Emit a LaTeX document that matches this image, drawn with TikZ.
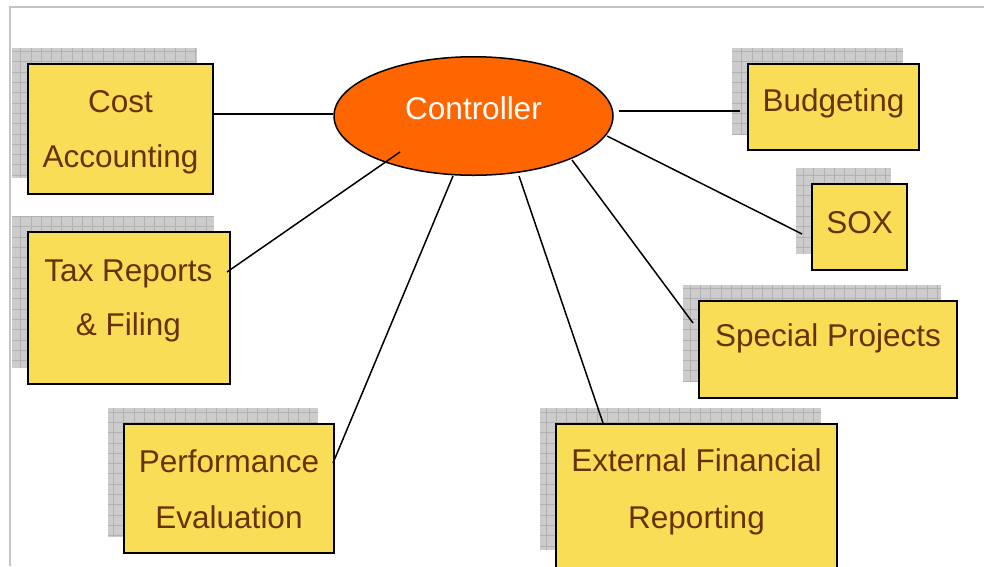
\documentclass[tikz,border=0pt]{standalone}
\usepackage{fontspec}
\setmainfont{Liberation Sans}
\usetikzlibrary{shapes.geometric,backgrounds}

\definecolor{boxyellow}{RGB}{249,221,86}
\definecolor{textbrown}{RGB}{102,51,0}
\definecolor{ctrlorange}{RGB}{255,102,0}
\definecolor{shadowgray}{RGB}{204,204,204}
\definecolor{shadowgrid}{RGB}{178,178,178}
\definecolor{framegray}{RGB}{196,196,196}

\tikzset{
  box/.style={draw=black, line width=2pt, fill=boxyellow, inner sep=0pt, outer sep=0pt},
  hub/.style={ellipse, draw=black, line width=1.5pt, fill=ctrlorange, inner sep=0pt, outer sep=0pt},
  lbl/.style={anchor=base, inner sep=0pt, text=textbrown, font=\fontsize{31.5}{31.5}\selectfont},
  hublbl/.style={lbl, text=white},
  link/.style={draw=black, line width=1.5pt},
  framerule/.style={draw=framegray, line width=2pt},
}

% grey hatched drop shadow, shifted up-left behind a box
\newcommand\gridshadow[2][0]{%
  \begin{scope}
    \clip ([shift={(-16,-16)}]#2.north west) rectangle ([shift={(-16,-16-#1)}]#2.south east);
    \fill[shadowgray] ([shift={(-16,-16)}]#2.north west) rectangle ([shift={(-16,-16-#1)}]#2.south east);
    \draw[shadowgrid, line width=0.8pt, step=10.3pt]
      ([shift={(-16,-16)}]#2.north west) grid ([shift={(-16,-16-#1)}]#2.south east);
  \end{scope}}

\begin{document}
\begin{tikzpicture}[x=1pt, y=-1pt]
  \useasboundingbox (0,0) rectangle (984,566);

  % boxes
  \node[box, minimum width=185, minimum height=130] (cost) at (120.5,129) {};
  \node[box, minimum width=202, minimum height=152] (tax)  at (129,308) {};
  \node[box, minimum width=210, minimum height=129] (perf) at (229,488.5) {};
  \node[box, minimum width=281, minimum height=150] (ext)  at (696.5,499) {};
  \node[box, minimum width=258, minimum height=97]  (spec) at (828,349.5) {};
  \node[box, minimum width=95,  minimum height=86]  (sox)  at (859.5,227) {};
  \node[box, minimum width=171, minimum height=86]  (budg) at (833.5,107) {};

  % central ellipse
  \node[hub, minimum width=279, minimum height=118.5] (ctrl) at (473.5,116) {};

  % frame and shadows behind everything
  \begin{pgfonlayer}{background}
    \draw[framerule] (10,566) -- (10,7) -- (984,7);
    \gridshadow{cost}
    \gridshadow{tax}
    \gridshadow{perf}
    \gridshadow[8]{ext}
    \gridshadow{spec}
    \gridshadow{sox}
    \gridshadow{budg}
  \end{pgfonlayer}

  % texts
  \node[hublbl] (tctrl) at (473.5,119) {Controller};
  \node[lbl] (tcost1) at (120.5,112) {Cost};
  \node[lbl] (tcost2) at (120.5,167) {Accounting};
  \node[lbl] (ttax1)  at (128.5,281) {Tax Reports};
  \node[lbl] (ttax2)  at (128.5,335) {\& Filing};
  \node[lbl] (tperf1) at (229,472) {Performance};
  \node[lbl] (tperf2) at (229,528) {Evaluation};
  \node[lbl] (text1)  at (696.5,471) {External Financial};
  \node[lbl] (text2)  at (696.5,528) {Reporting};
  \node[lbl] (tspec)  at (828,346) {Special Projects};
  \node[lbl] (tsox)   at (859.5,233) {SOX};
  \node[lbl] (tbudg)  at (833.5,111) {Budgeting};

  % connector end points
  \coordinate (cA) at (214,114);  \coordinate (cB) at (333,114);
  \coordinate (bA) at (619,111);  \coordinate (bB) at (740,111);
  \coordinate (sA) at (607,136);  \coordinate (sB) at (802,234);
  \coordinate (pA) at (572,160);  \coordinate (pB) at (693,323);
  \coordinate (eA) at (519,176);  \coordinate (eB) at (603,423);
  \coordinate (vA) at (453,176);  \coordinate (vB) at (333,463);
  \coordinate (xA) at (400,152);  \coordinate (xB) at (227,272);

  % connectors
  \draw[link] (cA) -- (cB);
  \draw[link] (bA) -- (bB);
  \draw[link] (sA) -- (sB);
  \draw[link] (pA) -- (pB);
  \draw[link] (eA) -- (eB);
  \draw[link] (vA) -- (vB);
  \draw[link] (xA) -- (xB);
\end{tikzpicture}
\end{document}
